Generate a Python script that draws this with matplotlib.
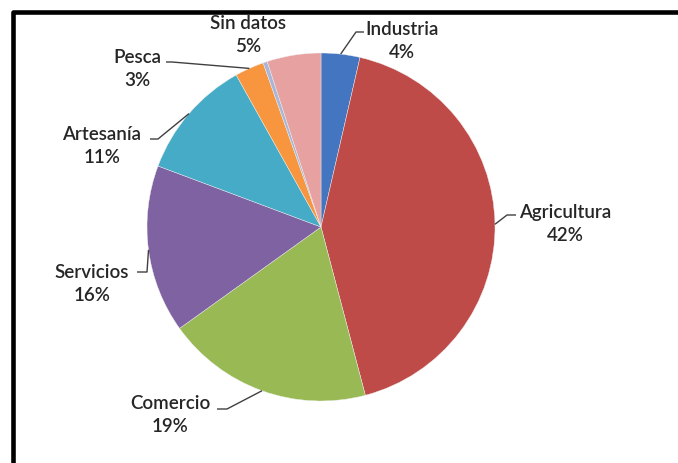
import numpy as np
import matplotlib
matplotlib.use("Agg")
import matplotlib.pyplot as plt

W, H = 678, 464

sectors = ["Industria", "Agricultura", "Comercio", "Servicios", "Artesanía", "Pesca", "", "Sin datos"]
shares = [3.6, 42.3, 19.2, 15.6, 11.2, 2.7, 0.4, 5.0]
colors = ["#4375C0", "#BE4B48", "#98B954", "#7F62A1", "#46ABC6", "#F7963F", "#A9B6D8", "#E6A1A0"]

# label block centres and leader elbows, pixel coords from top-left
label_pos = {
    "Industria": (402, 41),
    "Agricultura": (565, 224),
    "Comercio": (170, 415),
    "Servicios": (92, 284),
    "Artesanía": (102, 146),
    "Pesca": (137, 69),
    "Sin datos": (248, 35),
}
elbows = {
    "Industria": ((356, 33), (364, 33)),
    "Agricultura": ((507, 216), (516, 216)),
    "Comercio": ((227, 410), (217, 410)),
    "Servicios": ((147, 273), (137, 273)),
    "Artesanía": ((158, 140), (150, 140)),
    "Pesca": ((172, 63), (166, 63)),
}

CX, CY, R = 321, 228, 174

fig = plt.figure(figsize=(W / 100, H / 100), dpi=100)
ax = fig.add_axes([0, 0, 1, 1])

wedges, _ = ax.pie(
    shares,
    colors=colors,
    startangle=90,
    counterclock=False,
    center=(CX, H - CY),
    radius=R,
    wedgeprops=dict(linewidth=0.3, edgecolor="#f0f0f0"),
)

for w, name, val in zip(wedges, sectors, shares):
    if not name:
        continue
    tx, ty = label_pos[name]
    ax.text(tx, H - ty, f"{name}\n{round(val):.0f}%", ha="center", va="center",
            fontsize=13.5, family="Lato", weight="semibold", color="#262626",
            linespacing=1.45, multialignment="center")
    if name in elbows:
        mid = np.deg2rad((w.theta1 + w.theta2) / 2)
        ax0, ay0 = CX + R * np.cos(mid), (H - CY) + R * np.sin(mid)
        (ex, ey), (hx, hy) = elbows[name]
        ax.plot([ax0, ex, hx], [ay0, H - ey, H - hy], color="#404040", lw=1.0,
                solid_capstyle="butt")

# outer frame (only top and left edges fall inside the picture)
ax.plot([13, 13, W + 60], [-60, H - 12.5, H - 12.5], color="black", lw=3.3,
        solid_joinstyle="round", solid_capstyle="butt", clip_on=False)

ax.set_xlim(0, W)
ax.set_ylim(0, H)
ax.set_aspect("auto")
ax.axis("off")

fig.savefig("out.png", dpi=100, facecolor="white")
